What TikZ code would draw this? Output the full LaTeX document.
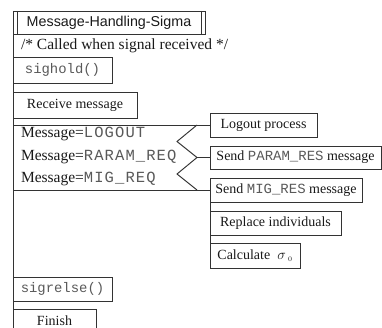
\documentclass[tikz,border=0pt]{standalone}
\usepackage{fontspec}
\setmainfont{Liberation Serif}
\setsansfont{Liberation Sans}
\setmonofont{Liberation Mono}
\newfontfamily\rowmono[LetterSpace=7]{Liberation Mono}

\begin{document}
\begin{tikzpicture}[x=1pt, y=-1pt, line width=0.95pt,
  every node/.style={inner sep=0pt, outer sep=0pt, text=black!90},
  box/.style={draw=black!80, anchor=north west, minimum height=24pt, font=\fontsize{14}{16}\selectfont},
  row/.style={anchor=west, font=\fontsize{15.5}{17}\selectfont},
  code/.style={text=black!65},
  link/.style={draw=black!80}]
  \useasboundingbox (0,0) rectangle (382,328);
  \node [box, minimum width=192pt, minimum height=23pt, font=\sffamily\fontsize{14.3}{16}\selectfont] (title) at (13,11) {Message-Handling-Sigma};
  \draw [link] ([xshift=4pt]title.north west) -- ([xshift=4pt]title.south west);
  \draw [link] ([xshift=-4pt]title.north east) -- ([xshift=-4pt]title.south east);
  \node [row] (comment) at (21,45.5) {/* Called when signal received */};
  \node [box, code, minimum width=99pt, minimum height=26pt] (hold) at (13,57) {\ttfamily\fontsize{13.9}{16}\selectfont sighold()};
  \node [box, minimum width=124pt, minimum height=26pt] (recv) at (13,92) {Receive message};
  \node [row] (m1) at (21,134) {Message={\color{black!65}\rowmono LOGOUT}};
  \node [row] (m2) at (21,157) {Message={\color{black!65}\rowmono RARAM\_REQ}};
  \node [row] (m3) at (21,179) {Message={\color{black!65}\rowmono MIG\_REQ}};
  \node [box, minimum width=107pt] (logout) at (210,113) {Logout process};
  \node [box, minimum width=171pt, minimum height=23pt] (param) at (210,146) {Send {\color{black!65}\ttfamily PARAM\_RES} message};
  \node [box, minimum width=152pt] (mig) at (210,178) {Send {\color{black!65}\ttfamily MIG\_RES} message};
  \node [box, minimum width=131pt] (repl) at (210,211) {Replace individuals};
  \node [box, minimum width=90pt, minimum height=25pt] (calc) at (210,243) {Calculate~~$\sigma_{\;\scriptscriptstyle 0}$};
  \node [box, code, minimum width=99pt] (rels) at (13,277) {\ttfamily\fontsize{13.9}{16}\selectfont sigrelse()};
  \node [box, minimum width=83pt] (finish) at (13,309) {Finish};
  \coordinate (top) at (13,11);
  \coordinate (bottom) at (13,340);
  \coordinate (mtop) at (13,125);
  \coordinate (mbot) at (13,190);
  \coordinate (z1) at (197,125);
  \coordinate (z2) at (177,141.5);
  \coordinate (z3) at (197,157.5);
  \coordinate (z4) at (177,174);
  \coordinate (z5) at (197,190);
  \draw [link] (top) -- (bottom);
  \draw [link] (mtop) -- (logout.west);
  \draw [link] (mbot) -- (mig.west);
  \draw [link] (z1) -- (z2) -- (z3) -- (z4) -- (z5);
  \draw [link] (z3) -- (param.west);
  \draw [link] (mig.south west) -- (repl.north west);
  \draw [link] (repl.south west) -- (calc.north west);
\end{tikzpicture}
\end{document}
